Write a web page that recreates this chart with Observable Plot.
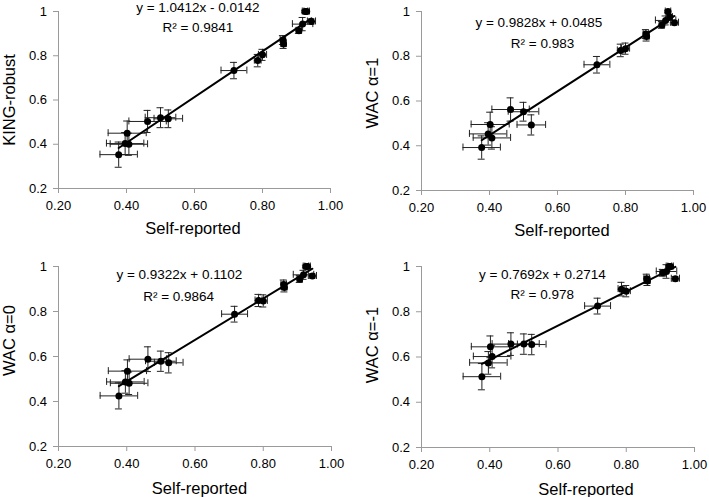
<!DOCTYPE html>
<html>
<head>
<meta charset="utf-8">
<script src="https://cdn.jsdelivr.net/npm/d3@7"></script>
<script src="https://cdn.jsdelivr.net/npm/@observablehq/plot@0.6"></script>
<style>
  html, body { margin: 0; padding: 0; background: white; }
  #wrap { position: relative; width: 709px; height: 497px; overflow: hidden; }
  #wrap svg { position: absolute; overflow: visible; }
  #wrap svg g[aria-label$="-axis tick"] { stroke: #9a9a9a; }
</style>
</head>
<body>
<div id="wrap"></div>
<script>
// ---- data ----
const selfReported = [0.377, 0.396, 0.402, 0.407, 0.462, 0.500, 0.523, 0.716, 0.786, 0.800, 0.860, 0.862, 0.907, 0.918, 0.925, 0.930, 0.944];
const selfReportedErr = [0.055, 0.055, 0.056, 0.055, 0.055, 0.045, 0.042, 0.038, 0.010, 0.012, 0.008, 0.008, 0.008, 0.030, 0.008, 0.008, 0.012];

const kingRobust = [0.353, 0.403, 0.450, 0.400, 0.503, 0.520, 0.515, 0.733, 0.778, 0.804, 0.871, 0.853, 0.913, 0.943, 1.000, 1.000, 0.955];
const kingRobustErr = [0.057, 0.050, 0.055, 0.050, 0.050, 0.045, 0.040, 0.037, 0.028, 0.025, 0.020, 0.020, 0.012, 0.030, 0.006, 0.006, 0.012];

const wacAlpha1 = [0.392, 0.453, 0.495, 0.435, 0.562, 0.552, 0.493, 0.762, 0.826, 0.834, 0.899, 0.888, 0.940, 0.960, 1.000, 0.975, 0.950];
const wacAlpha1Err = [0.052, 0.050, 0.055, 0.050, 0.052, 0.042, 0.045, 0.037, 0.028, 0.025, 0.020, 0.020, 0.015, 0.020, 0.006, 0.010, 0.010];

const wacAlpha0 = [0.425, 0.487, 0.535, 0.481, 0.588, 0.579, 0.572, 0.788, 0.849, 0.847, 0.920, 0.907, 0.944, 0.963, 1.000, 1.000, 0.958];
const wacAlpha0Err = [0.058, 0.050, 0.050, 0.050, 0.055, 0.045, 0.045, 0.035, 0.027, 0.027, 0.020, 0.020, 0.015, 0.020, 0.006, 0.006, 0.010];

const wacAlphaM1 = [0.513, 0.574, 0.645, 0.602, 0.657, 0.657, 0.655, 0.825, 0.900, 0.891, 0.946, 0.936, 0.972, 0.978, 1.000, 1.000, 0.946];
const wacAlphaM1Err = [0.058, 0.050, 0.048, 0.050, 0.050, 0.045, 0.045, 0.035, 0.030, 0.025, 0.020, 0.020, 0.015, 0.030, 0.006, 0.006, 0.010];

const yLabels = ["KING-robust", "WAC \u03b1=1", "WAC \u03b1=0", "WAC \u03b1=-1"];
const equations = ["y = 1.0412x - 0.0142", "y = 0.9828x + 0.0485", "y = 0.9322x + 0.1102", "y = 0.7692x + 0.2714"];
const rSquared = ["R\u00b2 = 0.9841", "R\u00b2 = 0.983", "R\u00b2 = 0.9864", "R\u00b2 = 0.978"];
const xTicks = [0.2, 0.4, 0.6, 0.8, 1.0];
const yTicks = [0.2, 0.4, 0.6, 0.8, 1.0];
const xLabel = "Self-reported";

// ---- layout per panel ----
const panels = [
  {y: kingRobust, e: kingRobustErr, left: 0, top: 0, width: 354, height: 248, mL: 58, mR: 24, mT: 11, mB: 60,
   eqAt: [0.61, 1.018], rAt: [0.61, 0.928], yT: [-55, 0], xT: [-1.5, 45.5]},
  {y: wacAlpha1, e: wacAlpha1Err, left: 354, top: 0, width: 355, height: 248, mL: 67, mR: 16, mT: 11, mB: 58,
   eqAt: [0.545, 0.951], rAt: [0.556, 0.855], yT: [-55.5, -8], xT: [4.5, 45]},
  {y: wacAlpha0, e: wacAlpha0Err, left: 0, top: 248, width: 354, height: 249, mL: 58, mR: 23, mT: 18, mB: 51,
   eqAt: [0.554, 0.963], rAt: [0.552, 0.867], yT: [-55, -16], xT: [4.5, 47]},
  {y: wacAlphaM1, e: wacAlphaM1Err, left: 354, top: 248, width: 355, height: 249, mL: 67, mR: 15, mT: 18, mB: 50,
   eqAt: [0.554, 0.966], rAt: [0.554, 0.874], yT: [-55.5, -12], xT: [28, 47]}
];

const wrap = document.getElementById("wrap");
panels.forEach((p, k) => {
  const rows = selfReported.map((x, i) => ({x, xe: selfReportedErr[i], y: p.y[i], ye: p.e[i]}));
  const ann = [
    {x: p.eqAt[0], y: p.eqAt[1], t: equations[k]},
    {x: p.rAt[0], y: p.rAt[1], t: rSquared[k]}
  ];
  const chart = Plot.plot({
    width: p.width,
    height: p.height,
    marginLeft: p.mL,
    marginRight: p.mR,
    marginTop: p.mT,
    marginBottom: p.mB,
    style: {fontFamily: "'Liberation Sans', Arial, sans-serif", fontSize: "13px", color: "black", background: "white", overflow: "visible"},
    x: {domain: [0.2, 1.0]},
    y: {domain: [0.2, 1.0]},
    marks: [
      Plot.axisX({ticks: xTicks, tickFormat: d3.format(".2f"), tickSize: 5, tickPadding: 7, fontSize: 13, label: null}),
      Plot.axisY({ticks: yTicks, tickFormat: d => String(+d.toFixed(1)), tickSize: 5, tickPadding: 6.5, fontSize: 13, label: null}),
      Plot.ruleY([0.2], {stroke: "#9a9a9a"}),
      Plot.ruleX([0.2], {stroke: "#9a9a9a"}),
      // axis titles
      Plot.text([xLabel], {frameAnchor: "bottom", text: d => d, lineAnchor: "bottom", textAnchor: "middle",
        dx: p.xT[0], dy: p.xT[1], fontSize: 16.5, fill: "black"}),
      Plot.text([yLabels[k]], {frameAnchor: "left", text: d => d, rotate: -90, lineAnchor: "top", textAnchor: "middle",
        dx: p.yT[0], dy: p.yT[1], fontSize: 16.5, fill: "black"}),
      // horizontal error bars
      Plot.ruleY(rows, {y: "y", x1: d => d.x - d.xe, x2: d => d.x + d.xe, stroke: "#222", strokeWidth: 1}),
      Plot.ruleX(rows, {x: d => d.x - d.xe, y1: "y", y2: "y", insetTop: -3.5, insetBottom: -3.5, stroke: "#222"}),
      Plot.ruleX(rows, {x: d => d.x + d.xe, y1: "y", y2: "y", insetTop: -3.5, insetBottom: -3.5, stroke: "#222"}),
      // vertical error bars
      Plot.ruleX(rows, {x: "x", y1: d => d.y - d.ye, y2: d => d.y + d.ye, stroke: "#222", strokeWidth: 1}),
      Plot.ruleY(rows, {y: d => d.y - d.ye, x1: "x", x2: "x", insetLeft: -3.5, insetRight: -3.5, stroke: "#222"}),
      Plot.ruleY(rows, {y: d => d.y + d.ye, x1: "x", x2: "x", insetLeft: -3.5, insetRight: -3.5, stroke: "#222"}),
      Plot.linearRegressionY(rows, {x: "x", y: "y", ci: 0, stroke: "black", strokeWidth: 2}),
      Plot.dot(rows, {x: "x", y: "y", r: 3.5, fill: "black", stroke: null}),
      Plot.text(ann, {x: "x", y: "y", text: "t", fontSize: 13.5, fill: "black", textAnchor: "middle", lineAnchor: "middle"})
    ]
  });
  chart.style.left = p.left + "px";
  chart.style.top = p.top + "px";
  wrap.appendChild(chart);
});
</script>
</body>
</html>
